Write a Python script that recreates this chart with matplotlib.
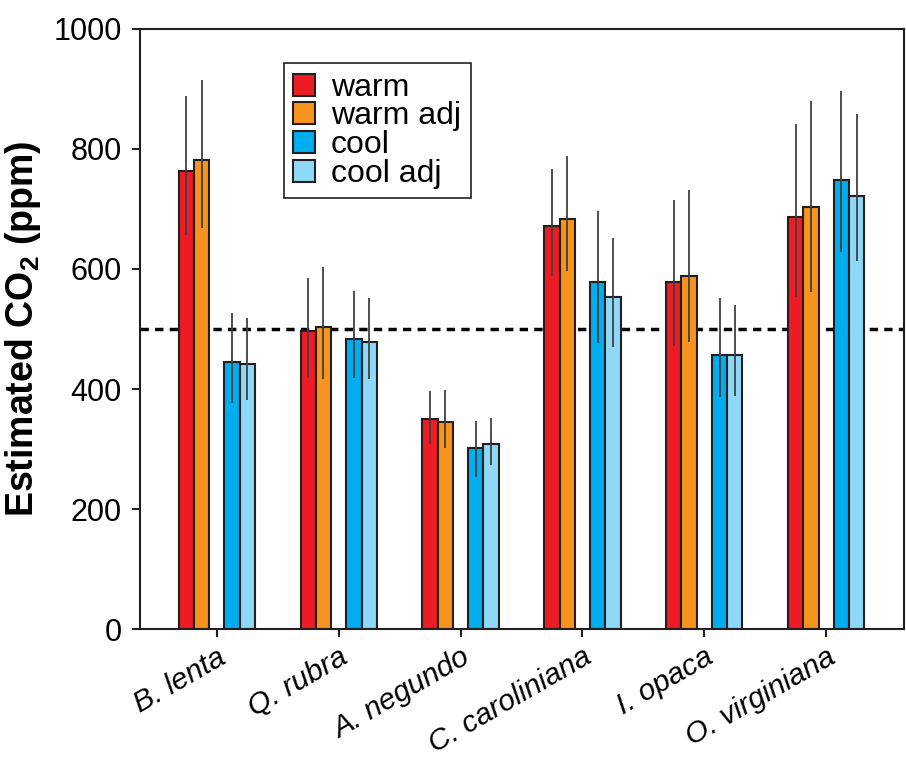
import numpy as np
import matplotlib
matplotlib.use('Agg')
import matplotlib.pyplot as plt

plt.rcParams['font.family'] = ['Liberation Sans', 'DejaVu Sans']
plt.rcParams['mathtext.fontset'] = 'custom'
plt.rcParams['mathtext.rm'] = 'Liberation Sans:bold'

# bar heights and error-bar ends (ppm)
species = ['B. lenta', 'Q. rubra', 'A. negundo', 'C. caroliniana', 'I. opaca', 'O. virginiana']
series = ['warm', 'warm adj', 'cool', 'cool adj']

warm = [763, 497, 350, 671, 578, 686]
warm_lo = [657, 419, 308, 589, 472, 553]
warm_hi = [889, 585, 397, 766, 715, 842]

warm_adj = [782, 504, 345, 684, 589, 703]
warm_adj_lo = [669, 416, 302, 596, 478, 562]
warm_adj_hi = [915, 603, 399, 789, 732, 880]

cool = [445, 484, 302, 579, 457, 748]
cool_lo = [377, 419, 253, 477, 386, 628]
cool_hi = [526, 563, 346, 697, 551, 897]

cool_adj = [442, 478, 309, 554, 456, 722]
cool_adj_lo = [381, 417, 273, 470, 389, 613]
cool_adj_hi = [518, 551, 351, 651, 540, 858]

reference_level = 500

colors = ['#ED1C24', '#F7941D', '#00AEEF', '#8ED8F8']
offsets = [-0.25, -0.125, 0.125, 0.25]
width = 0.125

fig = plt.figure(figsize=(9.06, 7.62), dpi=100)
ax = fig.add_axes([0.1545, 0.1745, 0.8435, 0.7875])

x = np.arange(len(species))
ax.axhline(reference_level, color='k', lw=2.5, dashes=(2.4, 1.8), zorder=1)

data = [(warm, warm_lo, warm_hi), (warm_adj, warm_adj_lo, warm_adj_hi),
        (cool, cool_lo, cool_hi), (cool_adj, cool_adj_lo, cool_adj_hi)]

for (vals, lo, hi), off, col, lab in zip(data, offsets, colors, series):
    vals = np.array(vals)
    yerr = [vals - np.array(lo), np.array(hi) - vals]
    ax.bar(x + off, vals, width, color=col, edgecolor='#231F20', lw=1.5,
           label=lab, zorder=2)
    ax.errorbar(x + off, vals, yerr=yerr, fmt='none', ecolor='#404040',
                elinewidth=1.3, capsize=0, zorder=3)

ax.set_xlim(-0.63, 5.64)
ax.set_ylim(0, 1000)
ax.set_yticks([0, 200, 400, 600, 800, 1000])
ax.set_xticks(x)
ax.set_xticklabels(species, rotation=30, ha='right', rotation_mode='anchor',
                   style='italic')
ax.tick_params(axis='both', direction='out', length=6, width=1.5,
               labelsize=22, pad=7, color='#231F20')
ax.tick_params(axis='x', labelsize=21.5, pad=4)

for sp in ax.spines.values():
    sp.set_linewidth(1.5)
    sp.set_color('#231F20')

ax.set_ylabel('Estimated CO$_2$ (ppm)', fontsize=27, fontweight='bold')
ax.yaxis.set_label_coords(-0.127, 0.5)

leg = ax.legend(loc='upper left', bbox_to_anchor=(0.188, 0.943), borderaxespad=0,
                fontsize=23, fancybox=False, edgecolor='#231F20', framealpha=1,
                handlelength=0.68, handleheight=0.68, handletextpad=0.5,
                labelspacing=-0.04, borderpad=0.3)
leg.get_frame().set_linewidth(1.2)

fig.savefig('out.png', dpi=100)
